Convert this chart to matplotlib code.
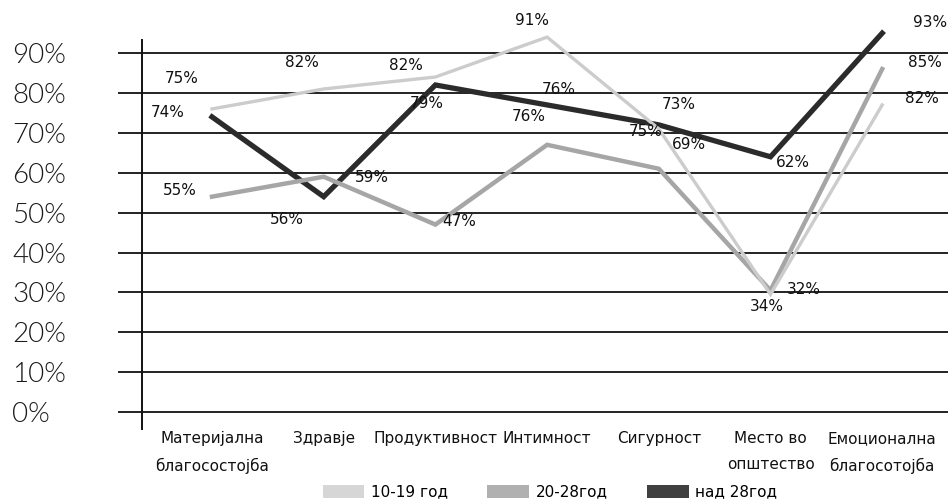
import matplotlib
matplotlib.use("Agg")
import matplotlib.pyplot as plt
from matplotlib import font_manager
from matplotlib.patches import Patch

# ---------------- data ----------------
categories = ["Материјална\nблагосостојба", "Здравје", "Продуктивност", "Интимност",
              "Сигурност", "Место во\nопштество", "Емоционална\nблагосотојба"]
series_names = ["10-19 год", "20-28год", "над 28год"]
vals_10_19 = [76, 81, 84, 94, 71, 29.5, 77]
vals_20_28 = [54, 59, 47, 67, 61, 30.5, 86]
vals_over28 = [74, 54, 82, 77, 72, 64, 95]
labels_10_19 = ["75%", "82%", "82%", "91%", "75%", "34%", "82%"]
labels_20_28 = ["55%", "59%", "47%", "76%", "69%", "32%", "85%"]
labels_over28 = ["74%", "56%", "79%", "76%", "73%", "62%", "93%"]
y_ticks = [0, 10, 20, 30, 40, 50, 60, 70, 80, 90]
y_ticklabels = [f"{t}%" for t in y_ticks]

# label offsets in pixels (dx right, dy up) relative to each point
off_10_19 = [(-30, 30), (-22, 26), (-29, 12), (-15, 17), (-13, -3), (-4, -12), (40, 6)]
off_20_28 = [(-32, 6), (48, -1), (24, 3), (-18, 28), (30, 24), (33, 1), (43, 7)]
off_over28 = [(-44, 4), (-37, -23), (-9, -19), (12, 15), (20, 20), (22, -6), (48, 11)]


def pick_light_font():
    """Return FontProperties for a light (weight ~300) sans font if available."""
    for fam in ["Lato", "Roboto", "Open Sans", "Noto Sans", "Inter"]:
        for f in font_manager.fontManager.ttflist:
            if f.name == fam and f.style == "normal" and f.weight in (300, "light"):
                return font_manager.FontProperties(fname=f.fname, size=20)
    return font_manager.FontProperties(family="DejaVu Sans", size=20)


ytick_font = pick_light_font()

fig = plt.figure(figsize=(9.52, 5.04), dpi=100)
ax = fig.add_axes([118 / 952, 74 / 504, 830 / 952, 420 / 504])
ax.set_xlim(-0.8415, 6.589)
ax.set_ylim(-4.5, 100.8)

for s in ax.spines.values():
    s.set_visible(False)

ax.set_yticks(y_ticks)
ax.set_yticklabels(y_ticklabels, fontproperties=ytick_font, color="#1a1a1a", ha="left")
ax.tick_params(axis="y", length=0, pad=76)
ax.grid(axis="y", color="#111111", lw=1.3)
ax.set_axisbelow(True)

ax.set_xticks(range(len(categories)))
ax.set_xticklabels(categories, fontsize=11, linespacing=1.9, color="#111111")
ax.tick_params(axis="x", length=0, pad=1)

ax.axvline(-0.627, ymin=0, ymax=(93.3 + 4.5) / (100.8 + 4.5), color="#111111", lw=1.4)

x = list(range(len(categories)))
ax.plot(x, vals_over28, color="#2b2b2b", lw=3.8, solid_joinstyle="miter", zorder=3)
ax.plot(x, vals_20_28, color="#a6a6a6", lw=3.2, solid_joinstyle="miter", zorder=4)
ax.plot(x, vals_10_19, color="#cccccc", lw=2.4, solid_joinstyle="miter", zorder=5)

for vals, labs, offs in [(vals_10_19, labels_10_19, off_10_19),
                         (vals_20_28, labels_20_28, off_20_28),
                         (vals_over28, labels_over28, off_over28)]:
    for i, (v, lab, off) in enumerate(zip(vals, labs, offs)):
        ax.annotate(lab, xy=(i, v), xytext=off, textcoords="offset pixels",
                    ha="center", va="center", fontsize=11, color="#111111", zorder=6)

handles = [Patch(facecolor="#d6d6d6", edgecolor="none"),
           Patch(facecolor="#b0b0b0", edgecolor="none"),
           Patch(facecolor="#404040", edgecolor="none")]
fig.legend(handles, series_names, loc="center", bbox_to_anchor=(550 / 952, 1 - 492 / 504),
           ncol=3, frameon=False, fontsize=11, handlelength=2.7, handleheight=0.9,
           handletextpad=0.45, columnspacing=2.6)

fig.savefig("out.png", dpi=100)
